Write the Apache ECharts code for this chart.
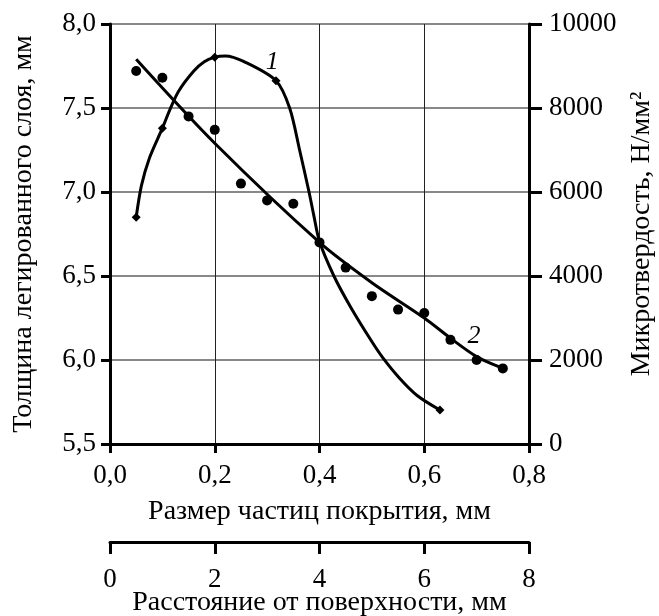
<!DOCTYPE html>
<html>
<head>
<meta charset="utf-8">
<script src="https://cdn.jsdelivr.net/npm/echarts@6/dist/echarts.min.js"></script>
<style>
html,body{margin:0;padding:0;background:#fff;}
#chart{width:659px;height:616px;}
</style>
</head>
<body>
<div id="chart"></div>
<script>
// кривая 1 - микротвердость (правая ось), кривая 2 - толщина слоя (левая ось)
var curve1Line = [
  [0.05, 5400], [0.06, 6150], [0.075, 6800], [0.1, 7520], [0.114, 7950],
  [0.131, 8400], [0.16, 8880], [0.18, 9100], [0.2, 9210], [0.22, 9240],
  [0.255, 9110], [0.317, 8650], [0.343, 8000], [0.362, 7000], [0.38, 6000],
  [0.389, 5450], [0.4, 4820], [0.4275, 4000], [0.459, 3270], [0.498, 2476],
  [0.52, 2070], [0.552, 1580], [0.587, 1150], [0.63, 810]
];
var curve1Marks = [[0.05, 5400], [0.1, 7520], [0.2, 9210], [0.317, 8650], [0.63, 810]];

var curve2Line = [
  [0.05, 7.79], [0.2, 7.29], [0.4, 6.70], [0.5, 6.46], [0.6, 6.25],
  [0.65, 6.13], [0.7, 6.02], [0.75, 5.95]
];
var curve2Points = [
  [0.05, 7.72], [0.1, 7.68], [0.15, 7.45], [0.2, 7.37], [0.25, 7.05],
  [0.3, 6.95], [0.35, 6.93], [0.4, 6.70], [0.45, 6.55], [0.5, 6.38],
  [0.55, 6.30], [0.6, 6.28], [0.65, 6.12], [0.7, 6.00], [0.75, 5.95]
];
var label1 = [[0.31, 9100]];
var label2 = [[0.695, 6.14]];

var font = 'Liberation Serif';
var tickSize = 27, nameSize = 28;
function comma1(v) { return v.toFixed(1).replace('.', ','); }

var chart = echarts.init(document.getElementById('chart'));
chart.setOption({
  animation: false,
  textStyle: { fontFamily: font, color: '#000' },
  grid: [
    { left: 110, right: 130, top: 24, height: 420, containLabel: false, outerBoundsMode: 'none' },
    { left: 110, right: 130, top: 541, height: 1, containLabel: false, outerBoundsMode: 'none' }
  ],
  xAxis: [
    {
      type: 'value', gridIndex: 0, min: 0, max: 0.8, interval: 0.2,
      name: 'Размер частиц покрытия, мм', nameLocation: 'middle', nameGap: 54, nameMoveOverlap: false,
      nameTextStyle: { fontSize: nameSize, fontFamily: font, color: '#000' },
      axisLine: { onZero: false, lineStyle: { color: '#000', width: 3 } },
      axisTick: { show: true, length: 9, lineStyle: { color: '#000', width: 3 } },
      axisLabel: { fontSize: tickSize, fontFamily: font, color: '#000', margin: 18, formatter: comma1 },
      splitLine: { show: true, lineStyle: { color: '#222', width: 1 } }
    },
    {
      type: 'value', gridIndex: 1, min: 0, max: 8, interval: 2, position: 'bottom',
      name: 'Расстояние от поверхности, мм', nameLocation: 'middle', nameGap: 47, nameMoveOverlap: false,
      nameTextStyle: { fontSize: nameSize, fontFamily: font, color: '#000' },
      axisLine: { onZero: false, lineStyle: { color: '#000', width: 3 } },
      axisTick: { show: true, length: 12, lineStyle: { color: '#000', width: 3 } },
      axisLabel: { fontSize: tickSize, fontFamily: font, color: '#000', margin: 24 },
      splitLine: { show: false }
    }
  ],
  yAxis: [
    {
      type: 'value', gridIndex: 0, min: 5.5, max: 8, interval: 0.5,
      name: 'Толщина легированного слоя, мм', nameLocation: 'middle', nameGap: 72, nameMoveOverlap: false,
      nameTextStyle: { fontSize: nameSize, fontFamily: font, color: '#000' },
      axisLine: { show: true, onZero: false, lineStyle: { color: '#000', width: 3 } },
      axisTick: { show: true, length: 9, lineStyle: { color: '#000', width: 3 } },
      axisLabel: { fontSize: tickSize, fontFamily: font, color: '#000', margin: 14, formatter: comma1 },
      splitLine: { show: true, lineStyle: { color: '#888', width: 2 } }
    },
    {
      type: 'value', gridIndex: 0, min: 0, max: 10000, interval: 2000, position: 'right',
      name: 'Микротвердость, Н/мм²', nameLocation: 'middle', nameGap: 99, nameMoveOverlap: false,
      nameTextStyle: { fontSize: nameSize, fontFamily: font, color: '#000' },
      axisLine: { show: true, onZero: false, lineStyle: { color: '#000', width: 3 } },
      axisTick: { show: true, length: 13, lineStyle: { color: '#000', width: 3 } },
      axisLabel: { fontSize: tickSize, fontFamily: font, color: '#000', margin: 20,
        formatter: function (v) { return String(v); } },
      splitLine: { show: false }
    },
    {
      type: 'value', gridIndex: 1, min: 0, max: 1, show: false
    }
  ],
  series: [
    {
      type: 'line', xAxisIndex: 0, yAxisIndex: 1, data: curve1Line,
      smooth: 0.3, showSymbol: false, symbol: 'none',
      lineStyle: { color: '#000', width: 3 }
    },
    {
      type: 'scatter', xAxisIndex: 0, yAxisIndex: 1, data: curve1Marks,
      symbol: 'diamond', symbolSize: [9, 9], itemStyle: { color: '#000', opacity: 1 }
    },
    {
      type: 'line', xAxisIndex: 0, yAxisIndex: 0, data: curve2Line,
      smooth: 0.3, showSymbol: false, symbol: 'none',
      lineStyle: { color: '#000', width: 3 }
    },
    {
      type: 'scatter', xAxisIndex: 0, yAxisIndex: 0, data: curve2Points,
      symbol: 'circle', symbolSize: 10, itemStyle: { color: '#000', opacity: 1 }
    },
    {
      type: 'scatter', xAxisIndex: 0, yAxisIndex: 1, data: label1, symbolSize: 0,
      itemStyle: { opacity: 1 },
      label: { show: true, position: 'inside', formatter: '1', fontSize: 26,
        fontStyle: 'italic', fontFamily: font, color: '#000' }
    },
    {
      type: 'scatter', xAxisIndex: 0, yAxisIndex: 0, data: label2, symbolSize: 0,
      itemStyle: { opacity: 1 },
      label: { show: true, position: 'inside', formatter: '2', fontSize: 26,
        fontStyle: 'italic', fontFamily: font, color: '#000' }
    }
  ]
});
</script>
</body>
</html>
